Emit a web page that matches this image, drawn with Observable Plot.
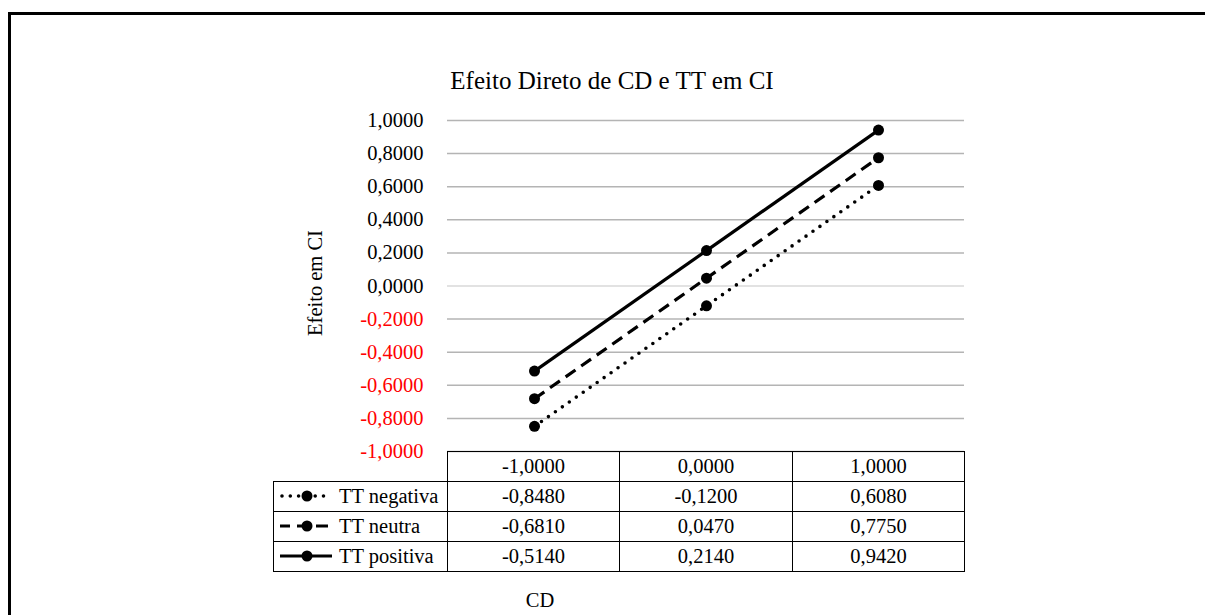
<!DOCTYPE html>
<html>
<head>
<meta charset="utf-8">
<script src="https://cdn.jsdelivr.net/npm/d3@7"></script>
<script src="https://cdn.jsdelivr.net/npm/@observablehq/plot@0.6"></script>
<style>
  html, body { margin: 0; padding: 0; background: #fff; }
  #wrap { position: relative; width: 1205px; height: 615px; overflow: hidden; font-family: "Liberation Serif", "Times New Roman", serif; color: #000; }
  #frame { position: absolute; left: 8px; top: 12px; width: 1300px; height: 700px; border-top: 3px solid #000; border-left: 3px solid #000; }
  #plot { position: absolute; left: 0; top: 0; }
  #title { position: absolute; left: 312px; width: 600px; top: 66px; line-height: 30px; text-align: center; font-size: 25px; white-space: nowrap; }
  #ytitle { position: absolute; left: 315px; top: 283px; transform: translate(-50%, -50%) rotate(-90deg); font-size: 20.5px; white-space: nowrap; }
  #xtitle { position: absolute; left: 540px; top: 600px; transform: translate(-50%, -50%); font-size: 20.5px; }
  #tbl { position: absolute; left: 273px; top: 451px; border-collapse: collapse; table-layout: fixed; font-size: 20.5px; }
  #tbl td { border: 1.3px solid #000; height: 29px; padding: 0; text-align: center; white-space: nowrap; line-height: 29px; }
  #tbl td.empty { border: none; border-right: 1.3px solid #000; }
  #tbl td.lg { text-align: left; padding-left: 5px; }
  #tbl td.lg svg { vertical-align: middle; margin-right: 6px; position: relative; top: -2px; }
</style>
</head>
<body>
<div id="wrap">
  <div id="frame"></div>
  <div id="plot"></div>
  <div id="title">Efeito Direto de CD e TT em CI</div>
  <div id="ytitle">Efeito em CI</div>
  <div id="xtitle">CD</div>
  <table id="tbl"></table>
</div>
<script>
// ---- data ----
const cdLevels = [-1, 0, 1];
const seriesNames = ["TT negativa", "TT neutra", "TT positiva"];
const ttNegativa = [-0.848, -0.120, 0.608];
const ttNeutra = [-0.681, 0.047, 0.775];
const ttPositiva = [-0.514, 0.214, 0.942];
const yTicks = [-1, -0.8, -0.6, -0.4, -0.2, 0, 0.2, 0.4, 0.6, 0.8, 1];

const seriesValues = [ttNegativa, ttNeutra, ttPositiva];
const dashes = ["0 8.5", "12 7", null];

const fmt = v => (v < -1e-9 ? "-" : "") + Math.abs(v).toFixed(4).replace(".", ",");

const rows = [];
seriesNames.forEach((s, i) => cdLevels.forEach((cd, j) => rows.push({series: s, cd, value: seriesValues[i][j]})));

const lineMarks = seriesNames.map((s, i) => Plot.line(rows.filter(r => r.series === s), {
  x: "cd", y: "value", stroke: "#000", strokeWidth: i === 0 ? 3.6 : 3.2,
  strokeDasharray: dashes[i], strokeLinecap: i === 0 ? "round" : "butt"
}));

const chart = Plot.plot({
  width: 1205,
  height: 615,
  marginLeft: 447,
  marginRight: 241,
  marginTop: 120,
  marginBottom: 164,
  style: {fontFamily: "'Liberation Serif', 'Times New Roman', serif", fontSize: "20.5px", background: "transparent", overflow: "visible"},
  x: {type: "point", domain: cdLevels, padding: 0.5, axis: null},
  y: {domain: [-1, 1]},
  marks: [
    Plot.ruleY(yTicks, {stroke: d => Math.abs(d) < 1e-9 ? "#d9d9d9" : "#b4b4b4", strokeWidth: 1.5, strokeOpacity: 1}),
    Plot.axisY({ticks: yTicks, tickSize: 0, tickPadding: 24, tickFormat: fmt, fill: d => d < -1e-9 ? "#ff0000" : "#000000", label: null, fontSize: 20.5}),
    ...lineMarks,
    Plot.dot(rows, {x: "cd", y: "value", r: 5.5, fill: "#000", stroke: "none"})
  ]
});
document.getElementById("plot").appendChild(chart);

// ---- data table ----
const tbl = document.getElementById("tbl");
const colW = [174, 172, 173, 172];
const cg = document.createElement("colgroup");
colW.forEach(w => { const c = document.createElement("col"); c.style.width = w + "px"; cg.appendChild(c); });
tbl.appendChild(cg);
tbl.style.width = colW.reduce((a, b) => a + b, 0) + "px";

const hr = document.createElement("tr");
const e = document.createElement("td"); e.className = "empty"; hr.appendChild(e);
cdLevels.forEach(cd => { const td = document.createElement("td"); td.textContent = fmt(cd); hr.appendChild(td); });
tbl.appendChild(hr);

seriesNames.forEach((s, i) => {
  const tr = document.createElement("tr");
  const lg = document.createElement("td"); lg.className = "lg";
  const ns = "http://www.w3.org/2000/svg";
  const sv = document.createElementNS(ns, "svg");
  sv.setAttribute("width", 54); sv.setAttribute("height", 14);
  const ln = document.createElementNS(ns, "line");
  ln.setAttribute("x1", i === 0 ? 3 : 1); ln.setAttribute("x2", i === 0 ? 52 : 53);
  ln.setAttribute("y1", 7); ln.setAttribute("y2", 7);
  ln.setAttribute("stroke", "#000"); ln.setAttribute("stroke-width", i === 0 ? 3.6 : 3.2);
  if (i === 0) { ln.setAttribute("stroke-dasharray", "0 8.3"); ln.setAttribute("stroke-linecap", "round"); }
  if (i === 1) { ln.setAttribute("stroke-dasharray", "12 7"); ln.setAttribute("stroke-dashoffset", "2"); }
  sv.appendChild(ln);
  const c = document.createElementNS(ns, "circle");
  c.setAttribute("cx", 28); c.setAttribute("cy", 7); c.setAttribute("r", 5.5); c.setAttribute("fill", "#000");
  sv.appendChild(c);
  lg.appendChild(sv);
  lg.appendChild(document.createTextNode(s));
  tr.appendChild(lg);
  seriesValues[i].forEach(v => { const td = document.createElement("td"); td.textContent = fmt(v); tr.appendChild(td); });
  tbl.appendChild(tr);
});
</script>
</body>
</html>
